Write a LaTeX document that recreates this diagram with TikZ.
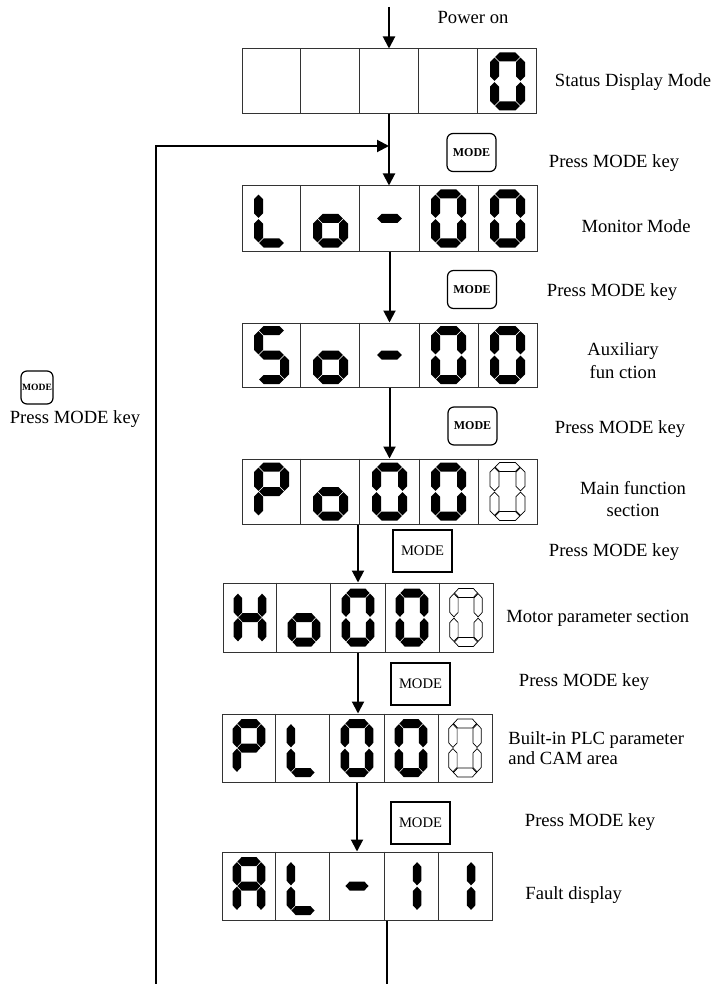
\documentclass[tikz,border=0pt]{standalone}
\usepackage{fontspec}
\setmainfont{Liberation Serif}
\usetikzlibrary{arrows.meta,positioning,calc}
% seven-segment glyph parts (local units, y down)
\newcommand{\hseg}[1]{\path[seg] (-12.4,#1) -- ++(4.5,-4.5) -- ++(15.8,0) -- ++(4.5,4.5) -- ++(-4.5,4.5) -- ++(-15.8,0) -- cycle;}
\newcommand{\vseg}[2]{\path[seg] (#1,#2) -- ++(4.5,4.5) -- ++(0,14.3) -- ++(-4.5,4.5) -- ++(-4.5,-4.5) -- ++(0,-14.3) -- cycle;}
\newcommand{\sega}{\hseg{-24.5}}
\newcommand{\segb}{\vseg{13}{-23.9}}
\newcommand{\segc}{\vseg{13}{0.6}}
\newcommand{\segd}{\hseg{24.5}}
\newcommand{\sege}{\vseg{-13}{0.6}}
\newcommand{\segf}{\vseg{-13}{-23.9}}
\newcommand{\segg}{\hseg{0}}
\newcommand{\segdigit}[4][]{\begin{scope}[shift={(#2,#3)},#1]\foreach \s in {#4}{\csname seg\s\endcsname}\end{scope}}
\tikzset{
  rowbox/.style={draw=black!80, line width=0.5pt, inner sep=0pt},
  cellline/.style={draw=black!80, line width=0.5pt},
  seg/.style={fill=black},
  hollow/.style={seg/.style={draw=black, line width=0.35pt, fill=none}},
  flow/.style={line width=1pt, -{Triangle[length=6pt,width=6pt]}},
  loopline/.style={line width=1pt},
  keyr/.style={draw, rounded corners=3pt, line width=0.6pt, font=\fontsize{6}{7}\selectfont\bfseries, minimum width=24.5pt, minimum height=19pt, inner sep=0pt},
  keys/.style={draw, line width=0.75pt, font=\fontsize{7.3}{8}\selectfont, minimum width=29.5pt, minimum height=21pt, inner sep=0pt},
  lbl/.style={font=\fontsize{9.3}{11.5}\selectfont, inner sep=0pt},
}

\begin{document}
\begin{tikzpicture}[x=0.5pt, y=-0.5pt]
  \useasboundingbox (0,0) rectangle (716,984);
  % display rows
  \node[rowbox, minimum width=147pt, minimum height=32.5pt] (status) at (389,81.5) {};
  \node[rowbox, minimum width=147.5pt, minimum height=32.5pt] (monitor) at (389.5,218.5) {};
  \node[rowbox, minimum width=147.5pt, minimum height=32pt] (aux) at (389.5,355) {};
  \node[rowbox, minimum width=147.5pt, minimum height=32.5pt] (mainfn) at (389.5,491.5) {};
  \node[rowbox, minimum width=135pt, minimum height=34.5pt] (motor) at (358,617.5) {};
  \node[rowbox, minimum width=135pt, minimum height=34pt] (plc) at (357,748) {};
  \node[rowbox, minimum width=135pt, minimum height=34pt] (fault) at (357,886) {};
  \foreach \r in {status,monitor,aux,mainfn,motor,plc,fault}
    \foreach \i in {1,...,4}
      \draw[cellline] ($(\r.north west)!\i/5!(\r.north east)$) -- ($(\r.south west)!\i/5!(\r.south east)$);

  % digits
  \segdigit{507.5}{81.5}{a,b,c,d,e,f}
  \segdigit{271.5}{218.5}{f,e,d}
  \segdigit{330.5}{218.5}{g,c,d,e}
  \segdigit{389.5}{218.5}{g}
  \segdigit{448.5}{218.5}{a,b,c,d,e,f}
  \segdigit{507.5}{218.5}{a,b,c,d,e,f}
  \segdigit{271.5}{355}{a,f,g,c,d}
  \segdigit{330.5}{355}{g,c,d,e}
  \segdigit{389.5}{355}{g}
  \segdigit{448.5}{355}{a,b,c,d,e,f}
  \segdigit{507.5}{355}{a,b,c,d,e,f}
  \segdigit{271.5}{491.5}{a,b,f,g,e}
  \segdigit{330.5}{491.5}{g,c,d,e}
  \segdigit{389.5}{491.5}{a,b,c,d,e,f}
  \segdigit{448.5}{491.5}{a,b,c,d,e,f}
  \segdigit[hollow]{507.5}{491.5}{a,b,c,d,e,f}
  \segdigit[xscale=0.93]{250}{617.5}{f,e,b,c,g}
  \segdigit[xscale=0.93]{304}{617.5}{g,c,d,e}
  \segdigit[xscale=0.93]{358}{617.5}{a,b,c,d,e,f}
  \segdigit[xscale=0.93]{412}{617.5}{a,b,c,d,e,f}
  \segdigit[hollow,xscale=0.93]{466}{617.5}{a,b,c,d,e,f}
  \segdigit[xscale=0.93]{249}{748}{a,b,f,g,e}
  \segdigit[xscale=0.93]{303}{748}{f,e,d}
  \segdigit[xscale=0.93]{357}{748}{a,b,c,d,e,f}
  \segdigit[xscale=0.93]{411}{748}{a,b,c,d,e,f}
  \segdigit[hollow,xscale=0.93]{465}{748}{a,b,c,d,e,f}
  \segdigit[xscale=0.93]{249}{886}{a,b,c,e,f,g}
  \segdigit[xscale=0.93]{303}{886}{f,e,d}
  \segdigit[xscale=0.93]{357}{886}{g}
  \segdigit[xscale=0.93]{405}{886}{b,c}
  \segdigit[xscale=0.93]{459}{886}{b,c}

  % keys
  \node[keyr] (k1) at (471.5,152.5) {MODE};
  \node[keyr] (k2) at (472,289.5) {MODE};
  \node[keyr] (k3) at (472.5,426) {MODE};
  \node[keys] (k4) at (422.5,551) {MODE};
  \node[keys] (k5) at (420.5,684) {MODE};
  \node[keys] (k6) at (420.5,823) {MODE};
  \node[keyr, minimum width=16pt, minimum height=16.5pt, font=\fontsize{4.8}{6}\selectfont\bfseries] (kback) at (37,387.5) {MODE};

  % labels
  \node[lbl] (pwrlbl) at (473,18) {Power on};
  \node[lbl] (stlbl) at (633,82) {Status Display Mode};
  \node[lbl] (p1) at (614,163) {Press MODE key};
  \node[lbl] (monlbl) at (636,226) {Monitor Mode};
  \node[lbl] (p2) at (612,292) {Press MODE key};
  \node[lbl, align=center] (auxlbl) at (623,361) {Auxiliary\\fun ction};
  \node[lbl] (p3) at (620,429) {Press MODE key};
  \node[lbl, align=center, font=\fontsize{9.3}{11}\selectfont] (mainlbl) at (633,499) {Main function\\section};
  \node[lbl] (p4) at (614,552) {Press MODE key};
  \node[lbl, anchor=west] (motlbl) at (506,618) {Motor parameter section};
  \node[lbl] (p5) at (584,682) {Press MODE key};
  \node[lbl, anchor=west, align=left, font=\fontsize{9.3}{10}\selectfont] (plclbl) at (508,748) {Built-in PLC parameter\\and CAM area};
  \node[lbl] (p6) at (590,822) {Press MODE key};
  \node[lbl, anchor=west] (faultlbl) at (525,895) {Fault display};
  \node[lbl] (pback) at (75,419) {Press MODE key};

  % connectors
  \coordinate (pwr) at (389,7);
  \coordinate (joint) at (389,146);
  \coordinate (loopend) at (387,984);
  \coordinate (loopcorner) at (156,984);
  \draw[flow] (pwr) -- (status.north);
  \draw[flow] (status.south) -- (status.south |- monitor.north);
  \draw[flow] (monitor.south) -- (monitor.south |- aux.north);
  \draw[flow] (aux.south) -- (aux.south |- mainfn.north);
  \draw[flow] (mainfn.south -| motor.north) -- (motor.north);
  \draw[flow] (motor.south) -- (motor.south |- plc.north);
  \draw[flow] (plc.south) -- (plc.south |- fault.north);
  \draw[loopline] (fault.south -| loopend) -- (loopend);
  \draw[flow] (loopcorner) |- (joint);
\end{tikzpicture}
\end{document}
